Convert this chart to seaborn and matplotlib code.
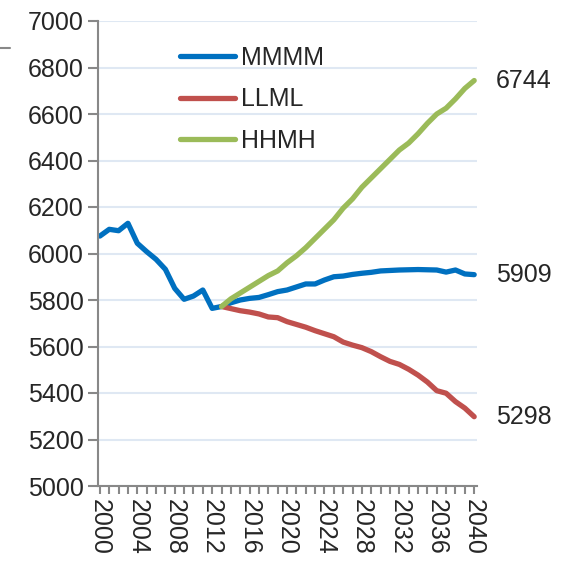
import pandas as pd
import numpy as np
import matplotlib.pyplot as plt
from matplotlib.lines import Line2D
import seaborn as sns

# data
years_mmmm = list(range(2000, 2041))
mmmm = [6075, 6104, 6098, 6130, 6044, 6008, 5975, 5932, 5850, 5803,
        5817, 5843, 5764, 5772, 5788, 5800, 5807, 5811, 5823, 5836,
        5843, 5856, 5869, 5869, 5886, 5900, 5903, 5910, 5915, 5919,
        5925, 5927, 5929, 5930, 5931, 5930, 5929, 5920, 5929, 5912, 5909]

years_scen = list(range(2013, 2041))
llml = [5772, 5763, 5754, 5748, 5740, 5727, 5724, 5707, 5695, 5683,
        5668, 5655, 5642, 5619, 5606, 5595, 5578, 5556, 5536, 5523,
        5502, 5477, 5447, 5410, 5399, 5363, 5335, 5298]
hhmh = [5772, 5805, 5830, 5855, 5880, 5905, 5925, 5960, 5990, 6025,
        6065, 6105, 6145, 6195, 6235, 6285, 6325, 6365, 6405, 6445,
        6475, 6515, 6560, 6600, 6625, 6665, 6710, 6744]

series = ["MMMM", "LLML", "HHMH"]
colors = {"MMMM": "#0070C0", "LLML": "#C0504D", "HHMH": "#9BBB59"}
end_labels = ["6744", "5909", "5298"]
end_values = [6744, 5909, 5298]

df = pd.concat([
    pd.DataFrame({"year": years_mmmm, "value": mmmm, "serie": "MMMM"}),
    pd.DataFrame({"year": years_scen, "value": llml, "serie": "LLML"}),
    pd.DataFrame({"year": years_scen, "value": hhmh, "serie": "HHMH"}),
])

sns.set_style("white")
plt.rcParams["font.family"] = ["Liberation Sans", "DejaVu Sans"]

fig = plt.figure(figsize=(5.63, 5.63), dpi=100)
ax = fig.add_axes([98 / 563, 1 - 486 / 563, 379 / 563, 465 / 563])

sns.lineplot(data=df, x="year", y="value", hue="serie", hue_order=series,
             palette=colors, linewidth=3.8, ax=ax, legend=False,
             solid_capstyle="round", solid_joinstyle="round")

ax.set_xlim(1999.8, 2040.3)
ax.set_ylim(5000, 7000)
ax.set_yticks(range(5000, 7001, 200))
ax.set_xticks(range(2000, 2041, 4))
ax.set_xticks(range(2000, 2041), minor=True)
ax.tick_params(axis="y", labelsize=18, length=7, width=1.5, color="#888888", direction="out", left=True)
ax.tick_params(axis="x", which="both", labelsize=18, length=6, width=1.5, color="#888888",
               direction="out", bottom=True, labelrotation=-90)
ax.set_xlabel("")
ax.set_ylabel("")
ax.grid(axis="y", color="#dfe8f3", linewidth=1.5)
ax.grid(axis="x", visible=False)
sns.despine(ax=ax)
for s in ["left", "bottom"]:
    ax.spines[s].set_color("#888888")
    ax.spines[s].set_linewidth(1.5)

handles = [Line2D([], [], color=colors[s], linewidth=3.8, solid_capstyle="round") for s in series]
ax.legend(handles, series, loc="upper left", bbox_to_anchor=(180 / 563, 1 - 46 / 563),
          bbox_transform=fig.transFigure, frameon=False, fontsize=18,
          handlelength=2.2, handletextpad=0.25, labelspacing=0.7, borderpad=0, borderaxespad=0)

for lab, v in zip(end_labels, end_values):
    ax.text(2042.3, v, lab, fontsize=18, va="center", ha="left", clip_on=False)

fig.add_artist(Line2D([0, 10 / 563], [1 - 48 / 563, 1 - 48 / 563], color="#888888", linewidth=1.5))

fig.savefig("out.png", dpi=100)
